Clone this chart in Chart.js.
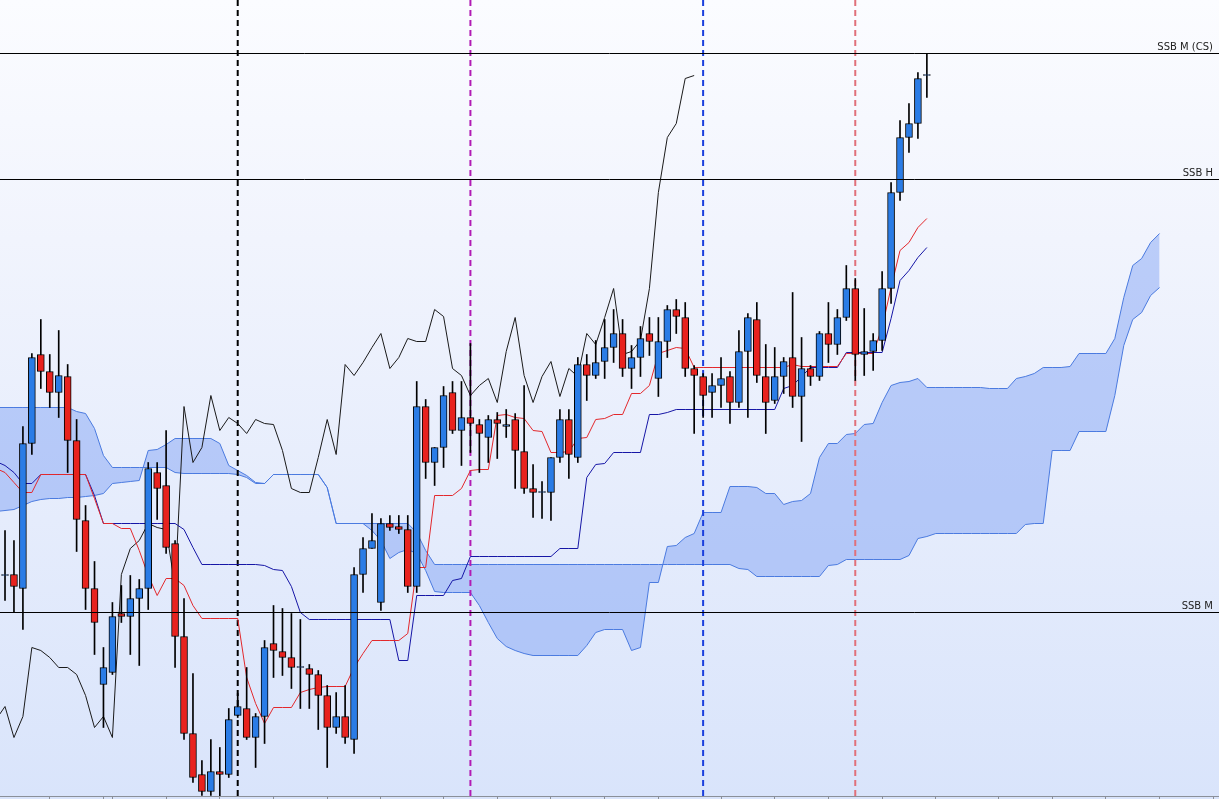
<!DOCTYPE html>
<html>
<head>
<meta charset="utf-8">
<title>Ichimoku</title>
<script src="https://cdn.jsdelivr.net/npm/chart.js@4.4.1/dist/chart.umd.min.js"></script>
<style>
    html, body { margin: 0; padding: 0; background: #eef2fc; }
    #chart { display: block; }
</style>
</head>
<body>
<canvas id="chart" width="1219" height="799"></canvas>
<script>
// one entry per bar (index 0..103), prices in points
var opens = [
    225, 226, 212, 357, 446, 429, 408, 424, 360, 280,
    212, 116, 128, 187, 184, 202, 212, 328, 315, 257,
    164, 67, 26, 9, 29, 26, 85, 92, 63, 84,
    157, 149, 143, 133, 132, 126, 105, 73, 84, 61,
    226, 252, 198, 277, 274, 271, 214, 394, 338, 353,
    408, 370, 383, 376, 363, 381, 374, 381, 349, 312,
    308, 308, 343, 381, 343, 436, 425, 439, 453, 467,
    432, 443, 467, 422, 459, 491, 483, 432, 424, 408,
    415, 424, 398, 449, 481, 424, 400, 424, 443, 404,
    432, 424, 467, 456, 483, 512, 446, 449, 460, 512,
    608, 663, 677, 725
];
var highs = [
    270, 260, 374, 447, 481, 446, 470, 436, 381, 295,
    239, 153, 198, 215, 225, 221, 338, 338, 370, 260,
    202, 127, 40, 61, 53, 92, 107, 133, 87, 160,
    195, 192, 187, 181, 136, 130, 115, 108, 115, 233,
    263, 287, 282, 285, 285, 285, 419, 401, 353, 414,
    419, 419, 457, 381, 385, 388, 391, 387, 415, 336,
    319, 343, 391, 391, 443, 446, 460, 481, 491, 481,
    455, 474, 483, 483, 495, 501, 498, 435, 427, 427,
    443, 429, 470, 487, 498, 456, 453, 443, 508, 463,
    435, 469, 498, 491, 535, 522, 492, 467, 529, 618,
    680, 697, 728, 747
];
var lows = [
    200, 188, 171, 346, 412, 393, 383, 328, 249, 191,
    146, 73, 126, 178, 146, 135, 191, 281, 247, 133,
    61, 18, 5, 5, 3, 23, 83, 61, 33, 57,
    123, 125, 112, 92, 92, 71, 33, 67, 57, 47,
    208, 252, 190, 270, 267, 208, 208, 322, 315, 333,
    367, 335, 348, 328, 338, 342, 363, 312, 307, 283,
    282, 280, 338, 322, 338, 400, 422, 422, 438, 424,
    412, 424, 445, 404, 443, 467, 424, 367, 383, 383,
    393, 377, 393, 383, 418, 367, 397, 407, 393, 359,
    415, 420, 438, 446, 480, 420, 425, 430, 450, 497,
    600, 648, 662, 703
];
var closes = [
    225, 214, 357, 443, 429, 408, 425, 360, 281, 212,
    178, 133, 184, 184, 202, 212, 332, 312, 253, 164,
    67, 23, 9, 29, 26, 81, 94, 63, 84, 153,
    150, 143, 133, 133, 126, 105, 73, 84, 63, 226,
    252, 260, 277, 273, 271, 214, 394, 338, 353, 405,
    370, 383, 377, 367, 381, 377, 376, 350, 312, 308,
    308, 343, 381, 346, 436, 425, 438, 453, 467, 432,
    443, 462, 459, 459, 491, 484, 432, 425, 405, 415,
    422, 398, 449, 483, 425, 398, 424, 439, 404, 432,
    424, 467, 456, 483, 512, 446, 449, 460, 512, 608,
    663, 677, 722, 725
];

// indicator lines below start one bar earlier (index -1, just off the left edge)
// tenkan-sen (red) and kijun-sen (dark blue)
var tenkan = [
    332,
    328, 318, 308, 308, 326, 326, 326, 326, 326, 326,
    302, 277, 277, 272, 272, 250, 225, 205, 222, 222,
    215, 195, 182, 182, 182, 182, 182, 123, 97, 77,
    93, 93, 93, 108, 111, 113, 114, 114, 114, 133,
    147, 160, 160, 160, 160, 167, 233, 233, 305, 305,
    305, 312, 330, 331, 331, 385, 386, 383, 382, 370,
    369, 348, 348, 349, 362, 363, 381, 382, 386, 386,
    407, 407, 415, 447, 450, 453, 452, 433, 433, 433,
    433, 433, 433, 433, 433, 433, 433, 433, 436, 434,
    434, 434, 434, 434, 447, 447, 447, 447, 473, 513,
    550, 558, 573, 582
];
var kijun = [
    339,
    335, 328, 317, 317, 326, 326, 326, 326, 326, 326,
    305, 277, 277, 277, 277, 277, 277, 277, 277, 277,
    271, 253, 236, 236, 236, 236, 236, 236, 236, 235,
    231, 230, 214, 188, 181, 181, 181, 181, 181, 181,
    181, 181, 181, 181, 140, 140, 205, 205, 205, 205,
    220, 222, 244, 244, 244, 244, 244, 244, 244, 244,
    244, 244, 252, 252, 252, 323, 336, 337, 348, 348,
    348, 348, 386, 386, 388, 391, 391, 391, 391, 391,
    391, 391, 391, 391, 391, 391, 391, 412, 415, 424,
    433, 433, 433, 433, 448, 448, 448, 448, 448, 482,
    520, 530, 543, 553
];

// cloud edges, index -1..129 (runs 26 bars past the last candle)
var spanA = [
    393,
    393, 393, 393, 393, 393, 393, 393, 393, 389, 387,
    372, 345, 333, 333, 333, 333, 333, 333, 333, 328,
    327, 327, 327, 327, 327, 327, 326, 323, 317, 317,
    326, 326, 326, 326, 326, 326, 313, 277, 277, 277,
    277, 277, 277, 277, 277, 277, 268, 250, 236, 236,
    236, 236, 236, 236, 236, 236, 236, 236, 236, 236,
    236, 236, 236, 236, 236, 236, 236, 236, 236, 236,
    236, 236, 236, 236, 236, 236, 236, 236, 236, 236,
    236, 236, 232, 231, 224, 224, 224, 224, 224, 224,
    224, 224, 235, 236, 241, 241, 241, 241, 241, 241,
    241, 245, 262, 264, 267, 267, 267, 267, 267, 267,
    267, 267, 267, 267, 276, 277, 277, 350, 350, 350,
    369, 369, 369, 369, 405, 455, 481, 488, 505, 513
];
var spanB = [
    289,
    290, 291, 295, 299, 301, 302, 302, 303, 303, 304,
    305, 307, 317, 318, 319, 320, 350, 351, 356, 362,
    362, 362, 362, 362, 357, 335, 330, 325, 318, 317,
    326, 326, 326, 326, 326, 326, 313, 277, 277, 277,
    277, 270, 260, 242, 248, 251, 247, 230, 209, 208,
    208, 208, 208, 195, 178, 162, 154, 150, 147, 145,
    145, 145, 145, 145, 145, 155, 168, 171, 171, 171,
    150, 153, 218, 218, 254, 255, 263, 267, 288, 288,
    288, 314, 314, 314, 313, 307, 307, 296, 299, 300,
    307, 343, 357, 357, 366, 367, 376, 377, 398, 415,
    418, 419, 422, 413, 413, 413, 413, 413, 413, 413,
    412, 412, 412, 422, 424, 427, 433, 433, 433, 434,
    447, 447, 447, 447, 462, 503, 535, 542, 558, 567
];

var lag = 26;                       // chikou span is the close drawn 26 bars back
var levels = [747, 621, 188];       // horizontal SSB levels
var levelNames = ['SSB M (CS)', 'SSB H', 'SSB M'];
var markerBars = [26, 52, 78, 95];  // dashed vertical markers
var tickBars = [5, 11, 12, 18, 24, 30, 36, 42, 49, 55, 61, 67, 73, 80, 86, 92, 98, 104, 111, 117, 123, 129, 135];

var markerColors = ['#000000', '#b11cb4', '#1a3fdd', '#e0707a'];
var upColor = '#2a7ce6';
var downColor = '#e8221e';

var xMin = -0.56, xMax = 135.64;
var yMin = 4.5, yMax = 800.5;

function series(values, start) {
    return values.map(function (v, i) { return {x: i + (start || 0), y: v}; });
}

var bodies = opens.map(function (o, i) { return {x: i, y: [o, closes[i]]}; });
var wicks = lows.map(function (l, i) { return {x: i, y: [l, highs[i]]}; });
var bodyColors = opens.map(function (o, i) { return closes[i] >= o ? upColor : downColor; });
var chikou = series(closes.slice(lag - 1), -1);

var backdrop = {
    id: 'backdrop',
    beforeDraw: function (chart) {
        var ctx = chart.ctx;
        var g = ctx.createLinearGradient(0, 0, 0, chart.height);
        g.addColorStop(0, '#fbfcff');
        g.addColorStop(0.3, '#f1f4fd');
        g.addColorStop(1, '#d9e4fb');
        ctx.save();
        ctx.fillStyle = g;
        ctx.fillRect(0, 0, chart.width, chart.height);
        ctx.restore();
    }
};

var levelTags = {
    id: 'levelTags',
    afterDatasetsDraw: function (chart) {
        var ctx = chart.ctx;
        var ys = chart.scales.y;
        var right = chart.chartArea.right - 6;
        ctx.save();
        ctx.font = '10px "DejaVu Sans", sans-serif';
        ctx.fillStyle = '#222222';
        ctx.textAlign = 'right';
        ctx.textBaseline = 'alphabetic';
        levels.forEach(function (v, k) {
            ctx.fillText(levelNames[k], right, ys.getPixelForValue(v) - 4);
        });
        ctx.restore();
    }
};

var datasets = [];

// horizontal levels, on top
levels.forEach(function (v) {
    datasets.push({
        type: 'line', data: [{x: xMin, y: v}, {x: xMax, y: v}],
        borderColor: '#000000', borderWidth: 1, pointRadius: 0, order: 0
    });
});

datasets.push({
    type: 'bar', data: bodies, backgroundColor: bodyColors,
    borderColor: '#000000', borderWidth: 1, borderSkipped: false,
    barThickness: 7, minBarLength: 1, grouped: false, order: 1
});
datasets.push({
    type: 'bar', data: wicks, backgroundColor: '#000000',
    borderWidth: 0, barThickness: 1, grouped: false, order: 2
});

datasets.push({type: 'line', data: series(tenkan, -1), borderColor: '#e3282c', borderWidth: 1, pointRadius: 0, order: 3});
datasets.push({type: 'line', data: series(kijun, -1), borderColor: '#1616a6', borderWidth: 1, pointRadius: 0, order: 4});
datasets.push({type: 'line', data: chikou, borderColor: '#1a1a1a', borderWidth: 1, pointRadius: 0, order: 5});

markerBars.forEach(function (b, k) {
    datasets.push({
        type: 'line', data: [{x: b, y: yMin}, {x: b, y: yMax}],
        borderColor: markerColors[k], borderWidth: 2, borderDash: [6, 4],
        pointRadius: 0, order: 6
    });
});

// cloud: second edge fills back to the first
datasets.push({type: 'line', data: series(spanA, -1), borderColor: '#4b7be0', borderWidth: 1, pointRadius: 0, order: 7});
datasets.push({
    type: 'line', data: series(spanB, -1), borderColor: '#4b7be0', borderWidth: 1, pointRadius: 0,
    fill: '-1', backgroundColor: 'rgba(112, 150, 244, 0.42)', order: 8
});

var ctx = document.getElementById('chart').getContext('2d');
window.ichimoku = new Chart(ctx, {
    type: 'bar',
    data: {datasets: datasets},
    options: {
        responsive: false,
        animation: false,
        devicePixelRatio: 1,
        events: [],
        layout: {padding: 0},
        plugins: {
            legend: {display: false},
            tooltip: {enabled: false}
        },
        scales: {
            x: {
                type: 'linear', min: xMin, max: xMax, offset: false,
                afterBuildTicks: function (axis) {
                    axis.ticks = tickBars.map(function (v) { return {value: v}; });
                },
                ticks: {display: false},
                grid: {drawOnChartArea: false, drawTicks: true, tickLength: 3, color: '#8b9099', offset: false},
                border: {color: '#8b9099', width: 1}
            },
            y: {
                type: 'linear', min: yMin, max: yMax, display: false
            }
        }
    },
    plugins: [backdrop, levelTags]
});
</script>
</body>
</html>
